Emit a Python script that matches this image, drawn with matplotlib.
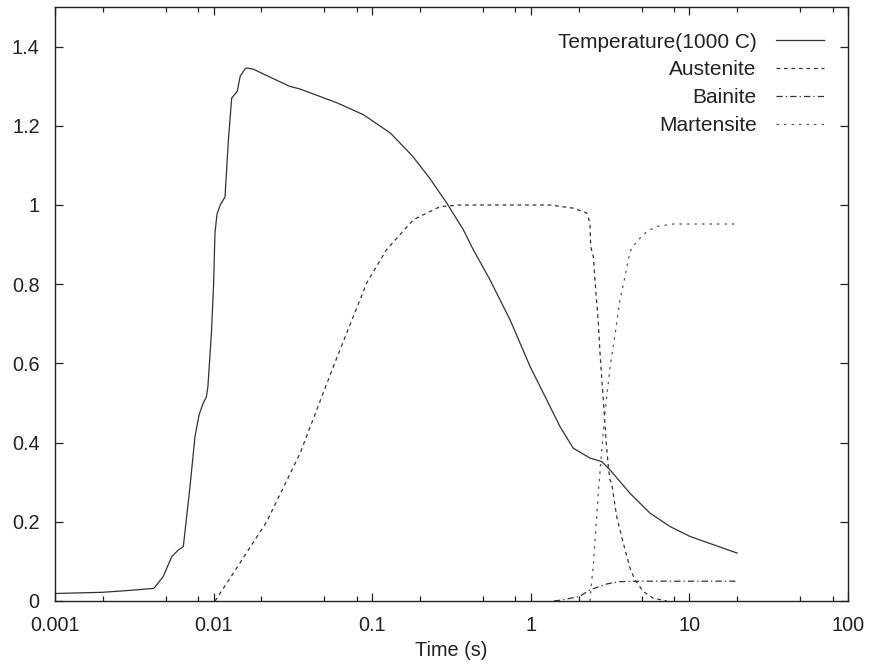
import matplotlib
matplotlib.use("Agg")
import matplotlib.pyplot as plt
from matplotlib.ticker import LogLocator, NullFormatter, FixedLocator, FixedFormatter

plt.rcParams['font.family'] = ['Liberation Sans', 'DejaVu Sans']

# Temperature (1000 C)
temp_t = [0.001, 0.002, 0.003, 0.0037, 0.0042, 0.0048, 0.00545, 0.0060, 0.00644,
          0.0071, 0.00763, 0.0081, 0.0086, 0.0090, 0.0092, 0.0097, 0.0100, 0.0102,
          0.0105, 0.0110, 0.0118, 0.0124, 0.0130, 0.0141, 0.0147, 0.0158, 0.0162,
          0.0178, 0.030, 0.035, 0.060, 0.088, 0.13, 0.18, 0.23, 0.295, 0.375, 0.434,
          0.553, 0.74, 0.99, 1.26, 1.53, 1.85, 2.36, 2.8, 3.16, 4.22, 5.64, 7.55,
          10.1, 14.2, 20.0]
temp_v = [0.019, 0.022, 0.027, 0.030, 0.032, 0.061, 0.112, 0.129, 0.137,
          0.289, 0.415, 0.470, 0.500, 0.515, 0.540, 0.680, 0.800, 0.929,
          0.976, 1.000, 1.020, 1.165, 1.270, 1.287, 1.325, 1.344, 1.346,
          1.343, 1.300, 1.293, 1.258, 1.228, 1.182, 1.123, 1.068, 1.005, 0.938, 0.887,
          0.811, 0.710, 0.592, 0.508, 0.440, 0.386, 0.361, 0.352, 0.331, 0.272, 0.222, 0.188,
          0.163, 0.142, 0.121]

# Austenite
aus_t = [0.0102, 0.0133, 0.0216, 0.0351, 0.0569, 0.0923, 0.123, 0.182, 0.268, 0.358,
         1.0, 1.32, 1.85, 2.25, 2.36, 2.386, 2.478, 2.566, 2.666, 2.732, 2.824, 2.907,
         2.980, 3.081, 3.157, 3.236, 3.48, 3.83, 4.22, 4.54, 5.12, 5.92, 7.19]
aus_v = [0.0, 0.070, 0.200, 0.373, 0.592, 0.803, 0.887, 0.963, 0.996, 1.0,
         1.0, 1.0, 0.992, 0.980, 0.955, 0.895, 0.870, 0.786, 0.702, 0.626, 0.542, 0.474,
         0.407, 0.339, 0.306, 0.297, 0.213, 0.146, 0.083, 0.053, 0.024, 0.007, 0.0]

# Bainite
bai_t = [1.40, 1.53, 2.02, 2.36, 3.01, 3.65, 5.0, 20.0]
bai_v = [0.0, 0.002, 0.011, 0.028, 0.043, 0.049, 0.050, 0.050]

# Martensite
mar_t = [2.36, 2.42, 2.48, 2.66, 2.80, 2.98, 3.16, 3.39, 3.65, 3.93, 4.22, 4.65,
         5.38, 6.22, 7.91, 20.0]
mar_v = [0.0, 0.05, 0.09, 0.27, 0.38, 0.50, 0.59, 0.67, 0.761, 0.820, 0.883, 0.908,
         0.933, 0.946, 0.952, 0.952]

labels = ["Temperature(1000 C)", "Austenite", "Bainite", "Martensite"]
xticks = [0.001, 0.01, 0.1, 1, 10, 100]
xticklabels = ["0.001", "0.01", "0.1", "1", "10", "100"]
yticks = [0, 0.2, 0.4, 0.6, 0.8, 1.0, 1.2, 1.4]
yticklabels = ["0", "0.2", "0.4", "0.6", "0.8", "1", "1.2", "1.4"]

FS = 14.3
LFS = 15.0
fig = plt.figure(figsize=(8.73, 6.69), dpi=100)
ax = fig.add_axes([55/873, 68/669, 793/873, 594/669])

col = '#333333'
lw = 0.9
ax.plot(temp_t, temp_v, color=col, lw=lw, ls='-', label=labels[0])
ax.plot(aus_t, aus_v, color=col, lw=lw, ls=(0, (3, 3)), label=labels[1])
ax.plot(bai_t, bai_v, color=col, lw=lw, ls=(0, (5, 2.5, 1, 2.5)), label=labels[2])
ax.plot(mar_t, mar_v, color='#555555', lw=lw, ls=(0, (2, 4)), label=labels[3])

ax.set_xscale('log')
ax.set_xlim(0.001, 100)
ax.set_ylim(0, 1.5)
ax.xaxis.set_major_locator(FixedLocator(xticks))
ax.xaxis.set_major_formatter(FixedFormatter(xticklabels))
ax.xaxis.set_minor_locator(LogLocator(base=10, subs=[2, 5, 8]))
ax.xaxis.set_minor_formatter(NullFormatter())
ax.yaxis.set_major_locator(FixedLocator(yticks))
ax.yaxis.set_major_formatter(FixedFormatter(yticklabels))

ax.tick_params(which='both', direction='in', top=True, right=True, color='#222222', width=0.9)
ax.tick_params(which='major', length=6, pad=11, labelsize=FS, labelcolor='#222222')
ax.tick_params(which='minor', length=3.5)
for s in ax.spines.values():
    s.set_linewidth(1.0)
    s.set_color('#222222')

ax.set_xlabel("Time (s)", fontsize=FS, color='#222222', labelpad=4)

leg = ax.legend(loc='upper right', bbox_to_anchor=(0.970, 0.957), frameon=False,
                markerfirst=False, fontsize=LFS, handlelength=2.3, handletextpad=0.95,
                labelspacing=0.42, borderpad=0, borderaxespad=0)
for t in leg.get_texts():
    t.set_color('#222222')

fig.savefig("out.png", dpi=100)
